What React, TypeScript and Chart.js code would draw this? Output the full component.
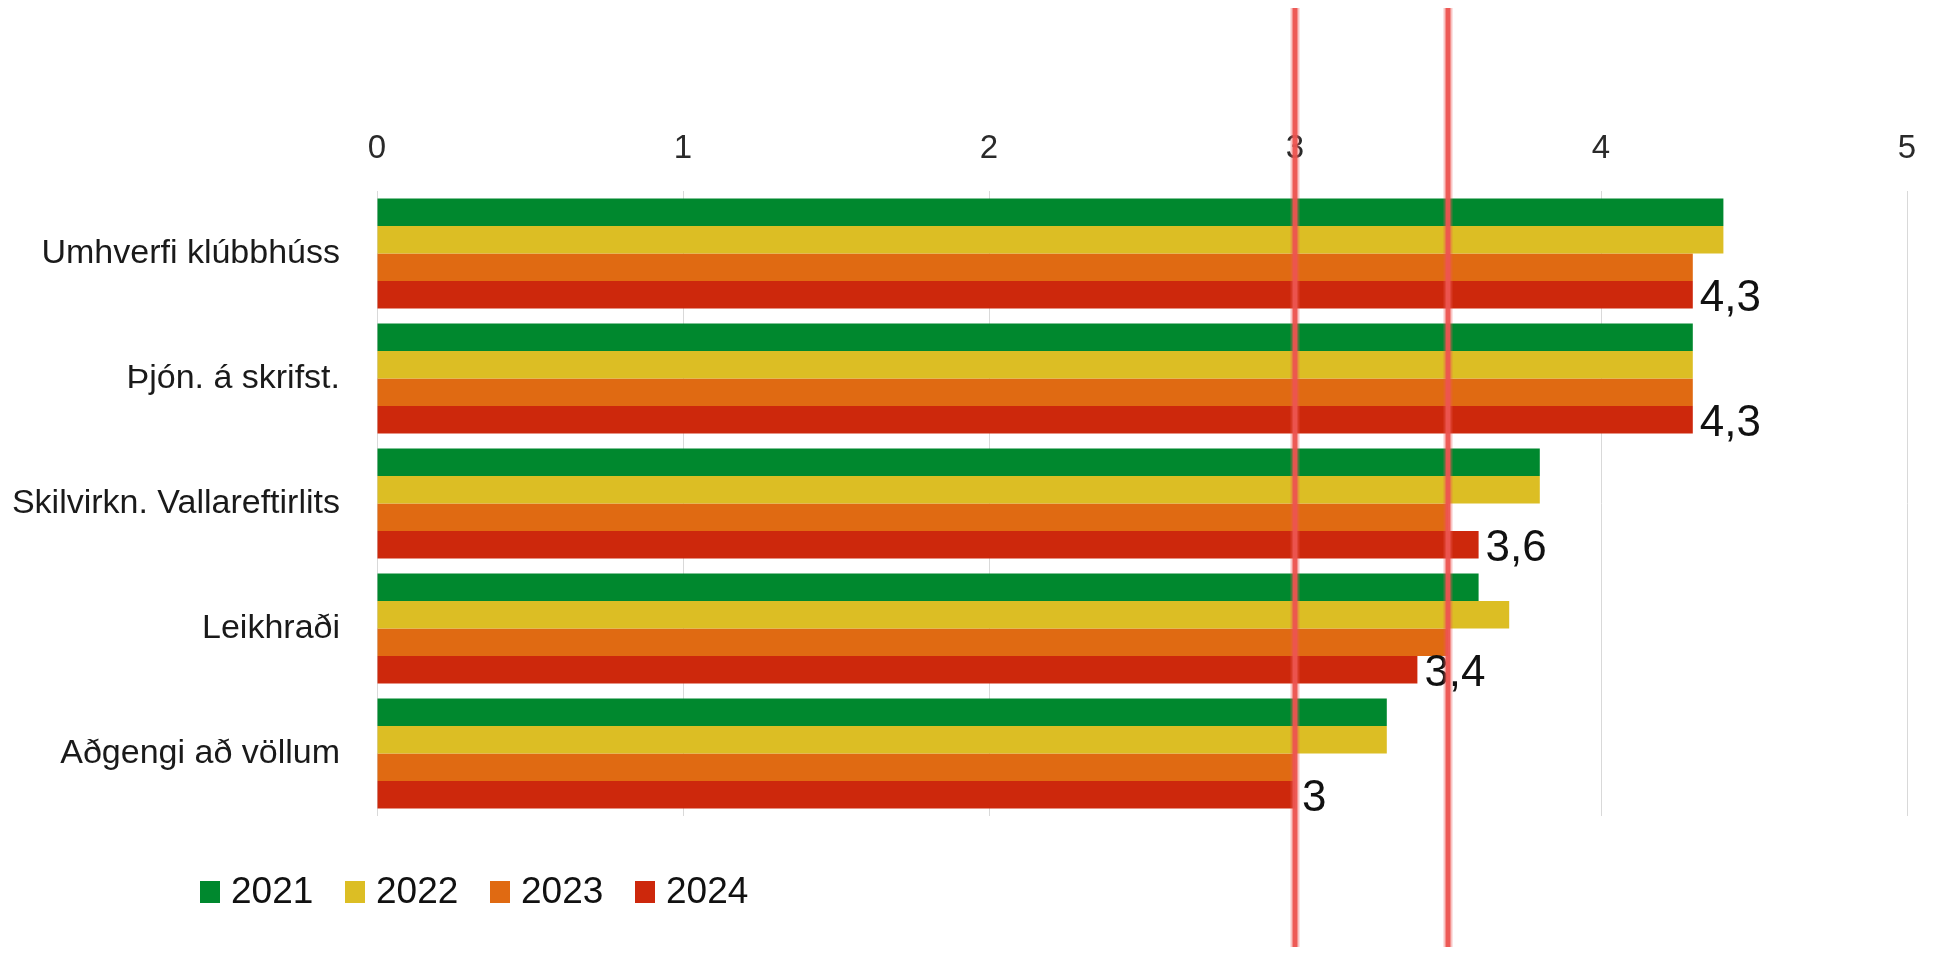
import React, { useEffect, useRef } from "react";
import { Chart, registerables } from "chart.js";

Chart.register(...registerables);

const categories = [
  "Umhverfi klúbbhúss",
  "Þjón. á skrifst.",
  "Skilvirkn. Vallareftirlits",
  "Leikhraði",
  "Aðgengi að völlum",
];
const years = ["2021", "2022", "2023", "2024"];
const values2021 = [4.4, 4.3, 3.8, 3.6, 3.3];
const values2022 = [4.4, 4.3, 3.8, 3.7, 3.3];
const values2023 = [4.3, 4.3, 3.5, 3.5, 3.0];
const values2024 = [4.3, 4.3, 3.6, 3.4, 3.0];
const seriesColors = ["#00882e", "#dcbe24", "#e06a12", "#cd280c"];
const xMin = 0;
const xMax = 5;
const xStep = 1;
const markerLines = [3.0, 3.5];
const labelledSeries = 3;

const FONT = "'Liberation Sans', Arial, Helvetica, sans-serif";

const valueLabelPlugin = {
  id: "valueLabels",
  afterDatasetsDraw(chart: any) {
    const ctx = chart.ctx;
    const meta = chart.getDatasetMeta(labelledSeries);
    const data = chart.data.datasets[labelledSeries].data;
    ctx.save();
    ctx.font = `44px ${FONT}`;
    ctx.fillStyle = "#111";
    ctx.textAlign = "left";
    ctx.textBaseline = "middle";
    meta.data.forEach((bar: any, i: number) => {
      const txt = String(data[i]).replace(".", ",");
      ctx.fillText(txt, bar.x + 7, bar.y + 4);
    });
    ctx.restore();
  },
};

const overlayPlugin = {
  id: "overlay",
  afterDraw(chart: any) {
    const ctx = chart.ctx;
    const xs = chart.scales.x;
    // legend
    ctx.save();
    ctx.font = `37px ${FONT}`;
    ctx.textBaseline = "middle";
    ctx.textAlign = "left";
    const startX = 192;
    const step = 145;
    const cy = 884;
    chart.data.datasets.forEach((ds: any, i: number) => {
      const x = startX + i * step;
      ctx.fillStyle = ds.backgroundColor;
      ctx.fillRect(x, cy - 11, 20, 22);
      ctx.fillStyle = "#111";
      ctx.fillText(ds.label, x + 31, cy + 1);
    });
    ctx.restore();
    // hand-drawn style marker lines
    ctx.save();
    markerLines.forEach((v) => {
      const px = xs.getPixelForValue(v);
      ctx.strokeStyle = "rgba(236, 90, 86, 0.35)";
      ctx.lineWidth = 9;
      ctx.beginPath();
      ctx.moveTo(px, 0);
      ctx.lineTo(px, chart.height);
      ctx.stroke();
      ctx.strokeStyle = "rgba(236, 84, 80, 0.95)";
      ctx.lineWidth = 5;
      ctx.beginPath();
      ctx.moveTo(px, 0);
      ctx.lineTo(px, chart.height);
      ctx.stroke();
    });
    ctx.restore();
  },
};

export default function App() {
  const ref = useRef<HTMLCanvasElement | null>(null);

  useEffect(() => {
    if (!ref.current) return;
    const seriesValues = [values2021, values2022, values2023, values2024];
    const chart = new Chart(ref.current, {
      type: "bar",
      data: {
        labels: categories,
        datasets: years.map((y, i) => ({
          label: y,
          data: seriesValues[i],
          backgroundColor: seriesColors[i],
          borderWidth: 0,
          categoryPercentage: 0.88,
          barPercentage: 1.0,
        })),
      },
      options: {
        indexAxis: "y",
        responsive: false,
        animation: false,
        devicePixelRatio: 1,
        layout: { padding: { top: 123, bottom: 131, left: 0, right: 44 } },
        plugins: {
          legend: { display: false },
          tooltip: { enabled: false },
        },
        scales: {
          x: {
            position: "top",
            min: xMin,
            max: xMax,
            ticks: {
              stepSize: xStep,
              font: { family: FONT, size: 33 },
              color: "#2a2a2a",
              padding: 22,
            },
            grid: { color: "#d9d9d9", lineWidth: 1, drawTicks: false },
            border: { display: false },
            afterFit(scale: any) {
              scale.height = 60;
            },
          },
          y: {
            ticks: {
              font: { family: FONT, size: 34 },
              color: "#1a1a1a",
              padding: 37,
            },
            grid: { display: false, drawTicks: false },
            border: { display: false },
            afterFit(scale: any) {
              scale.width = 369;
            },
          },
        },
      },
      plugins: [valueLabelPlugin, overlayPlugin],
    } as any);
    return () => chart.destroy();
  }, []);

  return (
    <div style={{ width: 1943, height: 939 }}>
      <canvas ref={ref} width={1943} height={939} style={{ display: "block" }} />
    </div>
  );
}
